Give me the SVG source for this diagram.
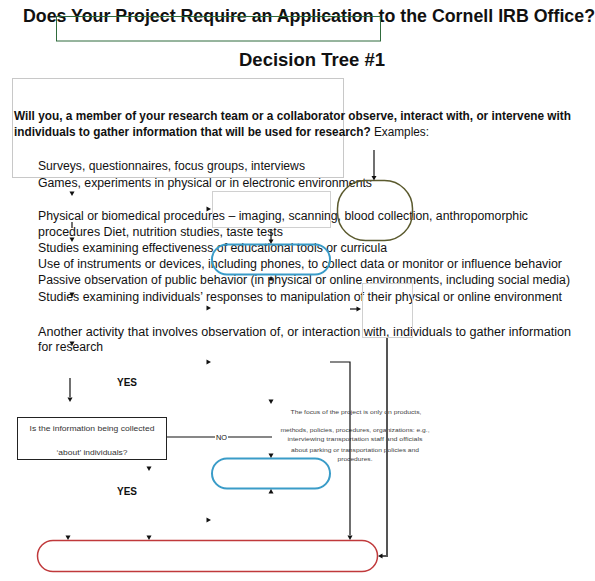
<svg xmlns="http://www.w3.org/2000/svg" width="595" height="581" viewBox="0 0 595 581">
<style>
text{font-family:"Liberation Sans",Arial,sans-serif;fill:#111}
.t{font-size:18px;font-weight:bold}
.b{font-size:12.5px;font-weight:bold}
.r{font-size:12.5px}
.s{font-size:8px;fill:#333}
.n{font-size:6px;fill:#444}
.y{font-size:11px;font-weight:bold}
.ln{stroke:#111;stroke-width:1.2;fill:none}
.ah{fill:#111}
</style>
<defs>
<path id="ad" d="M-2.5,-4.5 L2.5,-4.5 L0,0 Z"/>
<path id="au" d="M-2.5,4.5 L2.5,4.5 L0,0 Z"/>
<path id="ar" d="M-4.5,-2.5 L-4.5,2.5 L0,0 Z"/>
<path id="al" d="M4.5,-2.5 L4.5,2.5 L0,0 Z"/>
</defs>
<rect width="595" height="581" fill="#fff"/>

<g id="title">
<text class="t" x="23" y="22" textLength="572" lengthAdjust="spacingAndGlyphs">Does Your Project Require an Application to the Cornell IRB Office?</text>
</g>
<g id="title-box">
<rect x="56.5" y="16.5" width="324" height="24.5" fill="none" stroke="#2f6b3c" stroke-width="1"/>
</g>
<g id="subtitle">
<text class="t" x="239" y="66" textLength="146" lengthAdjust="spacingAndGlyphs" style="font-size:19px">Decision Tree #1</text>
</g>

<g id="question">
<rect x="12.5" y="78.5" width="331" height="99" fill="none" stroke="#c8c8c8" stroke-width="1"/>
<text class="b" x="14" y="120" textLength="557" lengthAdjust="spacingAndGlyphs">Will you, a member of your research team or a collaborator observe, interact with, or intervene with</text>
<text class="r" x="14" y="136" textLength="415" lengthAdjust="spacingAndGlyphs"><tspan font-weight="bold">individuals to gather information that will be used for research?</tspan> Examples:</text>
<text class="r" x="38" y="170" textLength="267" lengthAdjust="spacingAndGlyphs">Surveys, questionnaires, focus groups, interviews</text>
<text class="r" x="38" y="187" textLength="334" lengthAdjust="spacingAndGlyphs">Games, experiments in physical or in electronic environments</text>
<text class="r" x="38" y="220" textLength="490" lengthAdjust="spacingAndGlyphs">Physical or biomedical procedures – imaging, scanning, blood collection, anthropomorphic</text>
<text class="r" x="38" y="236" textLength="245" lengthAdjust="spacingAndGlyphs">procedures Diet, nutrition studies, taste tests</text>
<text class="r" x="38" y="252" textLength="349" lengthAdjust="spacingAndGlyphs">Studies examining effectiveness of educational tools or curricula</text>
<text class="r" x="38" y="268" textLength="524" lengthAdjust="spacingAndGlyphs">Use of instruments or devices, including phones, to collect data or monitor or influence behavior</text>
<text class="r" x="38" y="284" textLength="532" lengthAdjust="spacingAndGlyphs">Passive observation of public behavior (in physical or online environments, including social media)</text>
<text class="r" x="38" y="301" textLength="524" lengthAdjust="spacingAndGlyphs">Studies examining individuals’ responses to manipulation of their physical or online environment</text>
<text class="r" x="38" y="336" textLength="533" lengthAdjust="spacingAndGlyphs">Another activity that involves observation of, or interaction with, individuals to gather information</text>
<text class="r" x="38" y="351" textLength="65" lengthAdjust="spacingAndGlyphs">for research</text>
</g>

<g id="olive-node">
<rect x="337.5" y="180.5" width="75" height="60" rx="28" ry="28" fill="none" stroke="#5b5a2e" stroke-width="1.5"/>
</g>
<g id="gray-box-1">
<rect x="212.5" y="191.5" width="118" height="36" fill="none" stroke="#d0d0d0" stroke-width="1"/>
</g>
<g id="blue-node-1">
<rect x="212" y="244.5" width="118" height="30" rx="15" ry="15" fill="none" stroke="#3a9cc8" stroke-width="2"/>
</g>
<g id="gray-box-2">
<rect x="362.5" y="283.5" width="50" height="54" fill="none" stroke="#d0d0d0" stroke-width="1"/>
</g>

<g id="about-box">
<rect x="17.5" y="417.5" width="149" height="42" fill="#fff" stroke="#222" stroke-width="1"/>
<text class="s" x="92" y="431" text-anchor="middle" textLength="125" lengthAdjust="spacingAndGlyphs">Is the information being collected</text>
<text class="s" x="92" y="455" text-anchor="middle" textLength="71" lengthAdjust="spacingAndGlyphs">‘about’ individuals?</text>
</g>
<g id="yes-labels">
<text class="y" x="117" y="386" textLength="20" lengthAdjust="spacingAndGlyphs">YES</text>
<text class="y" x="117" y="495" textLength="20" lengthAdjust="spacingAndGlyphs">YES</text>
</g>
<g id="focus-note">
<text class="n" x="356" y="414" text-anchor="middle" textLength="131" lengthAdjust="spacingAndGlyphs">The focus of the project is only on products,</text>
<text class="n" x="355" y="432" text-anchor="middle" textLength="149" lengthAdjust="spacingAndGlyphs">methods, policies, procedures, organizations: e.g.,</text>
<text class="n" x="355" y="441" text-anchor="middle" textLength="135" lengthAdjust="spacingAndGlyphs">interviewing transportation staff and officials</text>
<text class="n" x="355" y="452" text-anchor="middle" textLength="128" lengthAdjust="spacingAndGlyphs">about parking or transportation policies and</text>
<text class="n" x="355" y="461" text-anchor="middle" textLength="35" lengthAdjust="spacingAndGlyphs">procedures.</text>
</g>
<g id="blue-node-2">
<rect x="212" y="458.5" width="118" height="30" rx="15" ry="15" fill="none" stroke="#3a9cc8" stroke-width="2"/>
</g>
<g id="end-node">
<rect x="37.5" y="540.5" width="340" height="31" rx="15.5" ry="15.5" fill="none" stroke="#c0393b" stroke-width="1.5"/>
</g>

<g id="connectors">
<line class="ln" x1="374" y1="150" x2="374" y2="176"/>
<use href="#ad" x="374" y="180.5" class="ah"/>
<line class="ln" x1="271" y1="229" x2="271" y2="240"/>
<use href="#ad" x="271" y="244" class="ah"/>
<use href="#au" x="271" y="276" class="ah"/>
<line class="ln" x1="350" y1="309" x2="357" y2="309"/>
<use href="#ar" x="361" y="309" class="ah"/>
<polyline points="387,338 387,556 382,556" fill="none" stroke="#555" stroke-width="2"/>
<use href="#al" x="378" y="556" class="ah"/>
<polyline class="ln" points="330,362 350,362 350,535"/>
<use href="#ad" x="350" y="540" class="ah"/>
<line class="ln" x1="70" y1="378" x2="70" y2="397"/>
<use href="#ad" x="70" y="402" class="ah"/>
<line class="ln" x1="167" y1="437" x2="215" y2="437"/>
<text class="s" x="216" y="440" textLength="11" lengthAdjust="spacingAndGlyphs" style="font-size:7.5px;fill:#111">NO</text>
<line class="ln" x1="228" y1="437" x2="272" y2="437"/>
<line class="ln" x1="72" y1="222" x2="72" y2="228"/>
<use href="#ad" x="72" y="196" class="ah"/>
<use href="#ad" x="72" y="242" class="ah"/>
<use href="#ad" x="72" y="297" class="ah"/>
<use href="#ad" x="72" y="346" class="ah"/>
<use href="#ar" x="211" y="209" class="ah"/>
<use href="#ar" x="211" y="308" class="ah"/>
<use href="#ar" x="211" y="362" class="ah"/>
<use href="#ar" x="211" y="520" class="ah"/>
<use href="#ad" x="271" y="404" class="ah"/>
<use href="#ad" x="149" y="471" class="ah"/>
<use href="#ad" x="271" y="458" class="ah"/>
<use href="#au" x="271" y="489" class="ah"/>
<use href="#ad" x="68" y="540" class="ah"/>
<use href="#ad" x="149" y="540" class="ah"/>
</g>
</svg>
